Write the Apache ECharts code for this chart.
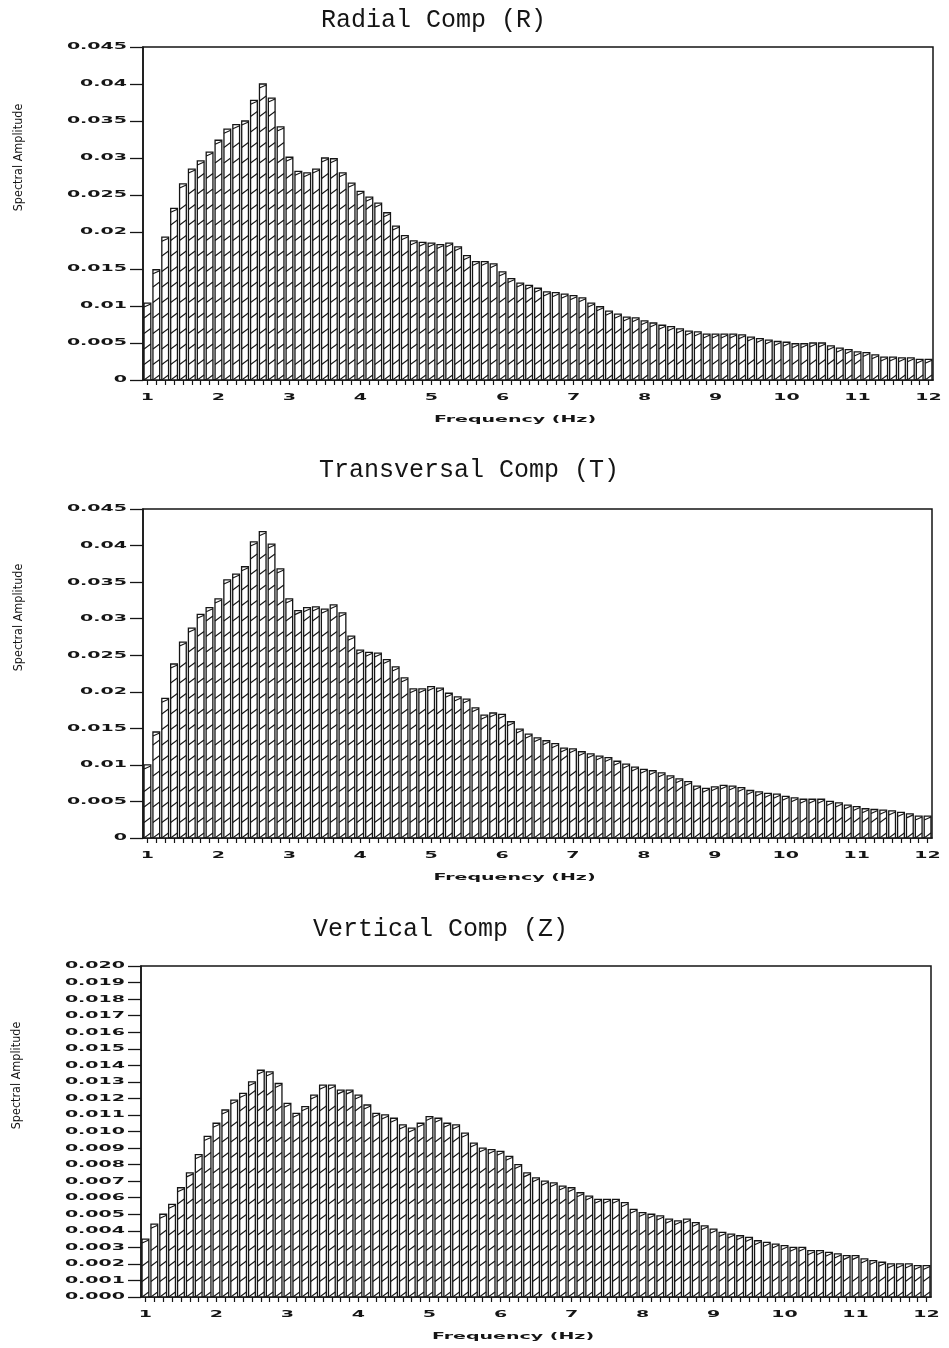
<!DOCTYPE html>
<html>
<head>
<meta charset="utf-8">
<style>
  html, body { margin: 0; padding: 0; background: #fff; }
  #chart { width: 949px; height: 1348px; }
</style>
<script src="https://cdn.jsdelivr.net/npm/echarts@6/dist/echarts.min.js"></script>
</head>
<body>
<div id="chart"></div>
<script>
// Frequency bins: 1 Hz to 12 Hz, one bar every 1/8 Hz
const FREQ_START = 1;
const FREQ_STEP = 0.125;
const FREQ_COUNT = 89;
const FREQS = Array.from({ length: FREQ_COUNT }, (_, i) => String(FREQ_START + i * FREQ_STEP));

const TITLES = ['Radial Comp (R)', 'Transversal Comp (T)', 'Vertical Comp (Z)'];
const X_NAME = 'Frequency (Hz)';
const Y_NAME = 'Spectral Amplitude';

// Tick labels
const X_TICK_LABELS = ['1', '2', '3', '4', '5', '6', '7', '8', '9', '10', '11', '12'];
const Y_TICK_LABELS_RT = ['0', '0.005', '0.01', '0.015', '0.02', '0.025', '0.03', '0.035', '0.04', '0.045'];
const Y_TICK_LABELS_Z = [
  '0.000', '0.001', '0.002', '0.003', '0.004', '0.005', '0.006', '0.007', '0.008', '0.009', '0.010',
  '0.011', '0.012', '0.013', '0.014', '0.015', '0.016', '0.017', '0.018', '0.019', '0.020'
];

// Spectral amplitude, radial component
const RADIAL = [
  0.0104, 0.0149, 0.0193, 0.0232, 0.0265, 0.0285, 0.0296, 0.0308,
  0.0324, 0.0339, 0.0345, 0.0350, 0.0378, 0.0400, 0.0381, 0.0342,
  0.0301, 0.0282, 0.0280, 0.0285, 0.0300, 0.0299, 0.0280, 0.0266,
  0.0255, 0.0247, 0.0239, 0.0226, 0.0208, 0.0195, 0.0188, 0.0186,
  0.0185, 0.0183, 0.0185, 0.0180, 0.0168, 0.0160, 0.0160, 0.0157,
  0.0146, 0.0137, 0.0131, 0.0128, 0.0124, 0.0119, 0.0118, 0.0116,
  0.0114, 0.0111, 0.0104, 0.0099, 0.0093, 0.0089, 0.0085, 0.0084,
  0.0080, 0.0077, 0.0074, 0.0072, 0.0069, 0.0066, 0.0065, 0.0062,
  0.0062, 0.0062, 0.0062, 0.0061, 0.0058, 0.0056, 0.0054, 0.0052,
  0.0051, 0.0049, 0.0049, 0.0050, 0.0050, 0.0046, 0.0043, 0.0041,
  0.0038, 0.0037, 0.0034, 0.0031, 0.0031, 0.0030, 0.0030, 0.0028,
  0.0028
];

// Spectral amplitude, transversal component
const TRANSVERSAL = [
  0.0100, 0.0145, 0.0191, 0.0238, 0.0268, 0.0287, 0.0306, 0.0315,
  0.0327, 0.0353, 0.0361, 0.0371, 0.0405, 0.0419, 0.0402, 0.0368,
  0.0327, 0.0311, 0.0315, 0.0316, 0.0313, 0.0319, 0.0308, 0.0276,
  0.0257, 0.0254, 0.0253, 0.0244, 0.0234, 0.0219, 0.0204, 0.0204,
  0.0207, 0.0205, 0.0198, 0.0193, 0.0190, 0.0178, 0.0168, 0.0171,
  0.0169, 0.0159, 0.0149, 0.0142, 0.0137, 0.0133, 0.0129, 0.0123,
  0.0122, 0.0118, 0.0115, 0.0112, 0.0110, 0.0105, 0.0101, 0.0097,
  0.0094, 0.0092, 0.0089, 0.0085, 0.0081, 0.0077, 0.0071, 0.0068,
  0.0070, 0.0072, 0.0071, 0.0069, 0.0065, 0.0063, 0.0061, 0.0060,
  0.0057, 0.0055, 0.0053, 0.0053, 0.0053, 0.0050, 0.0048, 0.0045,
  0.0043, 0.0040, 0.0039, 0.0038, 0.0037, 0.0035, 0.0033, 0.0030,
  0.0030
];

// Spectral amplitude, vertical component
const VERTICAL = [
  0.0035, 0.0044, 0.0050, 0.0056, 0.0066, 0.0075, 0.0086, 0.0097,
  0.0105, 0.0113, 0.0119, 0.0123, 0.0130, 0.0137, 0.0136, 0.0129,
  0.0117, 0.0111, 0.0115, 0.0122, 0.0128, 0.0128, 0.0125, 0.0125,
  0.0122, 0.0116, 0.0111, 0.0110, 0.0108, 0.0104, 0.0102, 0.0105,
  0.0109, 0.0108, 0.0105, 0.0104, 0.0099, 0.0093, 0.0090, 0.0089,
  0.0088, 0.0085, 0.0080, 0.0075, 0.0072, 0.0070, 0.0069, 0.0067,
  0.0066, 0.0063, 0.0061, 0.0059, 0.0059, 0.0059, 0.0057, 0.0053,
  0.0051, 0.0050, 0.0049, 0.0047, 0.0046, 0.0047, 0.0045, 0.0043,
  0.0041, 0.0039, 0.0038, 0.0037, 0.0036, 0.0034, 0.0033, 0.0032,
  0.0031, 0.0030, 0.0030, 0.0028, 0.0028, 0.0027, 0.0026, 0.0025,
  0.0025, 0.0023, 0.0022, 0.0021, 0.0020, 0.0020, 0.0020, 0.0019,
  0.0019
];

const SERIES = [RADIAL, TRANSVERSAL, VERTICAL];
const Y_TICK_LABELS = [Y_TICK_LABELS_RT, Y_TICK_LABELS_RT, Y_TICK_LABELS_Z];
const Y_MAX = [0.045, 0.045, 0.020];
const Y_STEP = [0.005, 0.005, 0.001];

const INK = '#151515';
// Wide plotter-style lettering for the axis numbers and the frequency caption
const PLOT_FONT = 'bold 9.5px "DejaVu Sans"';
const PLOT_STRETCH = 2.0;

// Panel geometry
const GRIDS = [
  { left: 143, right: 16, top: 47, height: 333 },
  { left: 143, right: 17, top: 509, height: 329 },
  { left: 141, right: 18, top: 966, height: 331 }
];
const TITLE_POS = [
  { left: 316, top: 3 },
  { left: 314, top: 453 },
  { left: 308, top: 912 }
];

// Each bar: white column with outline, slanted cap and stacked slanted hatch strokes
function renderBar(params, api) {
  const idx = api.value(0);
  const v = api.value(1);
  const top = api.coord([idx, v]);
  const base = api.coord([idx, 0]);
  const band = api.size([1, 0])[0];
  const w = band * 0.76;
  const x0 = top[0] - w / 2;
  const x1 = x0 + w;
  const yTop = top[1];
  const yBase = base[1];
  const stroke = { stroke: INK, lineWidth: 1.1 };
  const children = [{
    type: 'rect',
    shape: { x: x0, y: yTop, width: w, height: yBase - yTop },
    style: { fill: '#fff', stroke: INK, lineWidth: 1.3 }
  }];
  if (yBase - yTop > 6) {
    children.push({
      type: 'line',
      shape: { x1: x0, y1: yTop + 4, x2: x1, y2: yTop + 1 },
      style: stroke
    });
  }
  for (let y = yBase; y - 5 > yTop + 7; y -= 15.5) {
    children.push({
      type: 'line',
      shape: { x1: x0, y1: y, x2: x1, y2: y - 5 },
      style: stroke
    });
  }
  return { type: 'group', children };
}

const chart = echarts.init(document.getElementById('chart'), null, { renderer: 'canvas' });

const option = {
  backgroundColor: '#fff',
  animation: false,
  title: TITLES.map((t, i) => ({
    text: t,
    left: TITLE_POS[i].left,
    top: TITLE_POS[i].top,
    textStyle: {
      fontFamily: 'Liberation Mono',
      fontSize: 25,
      fontWeight: 'normal',
      color: INK
    }
  })),
  grid: GRIDS.map(g => Object.assign({
    show: true,
    borderColor: INK,
    borderWidth: 1.5,
    backgroundColor: 'transparent',
    containLabel: false
  }, g)),
  xAxis: GRIDS.map((g, i) => ({
    type: 'category',
    gridIndex: i,
    data: FREQS,
    boundaryGap: true,
    axisLine: { show: true, lineStyle: { color: INK, width: 1.5 } },
    axisTick: {
      show: true,
      interval: 0,
      alignWithLabel: true,
      length: 5,
      lineStyle: { color: INK, width: 1.2 }
    },
    axisLabel: { show: false },
    splitLine: { show: false }
  })),
  yAxis: GRIDS.map((g, i) => ({
    type: 'value',
    gridIndex: i,
    min: 0,
    max: Y_MAX[i],
    interval: Y_STEP[i],
    name: Y_NAME,
    nameLocation: 'middle',
    nameGap: 118,
    nameRotate: 90,
    nameTextStyle: {
      fontFamily: '"Liberation Sans Narrow", "DejaVu Sans Condensed", "Liberation Sans", sans-serif',
      fontSize: 12.5,
      color: INK,
      padding: [0, 0, 0, 112]
    },
    axisLine: { show: true, lineStyle: { color: INK, width: 1.5 } },
    axisTick: { show: true, length: 13, lineStyle: { color: INK, width: 1.3 } },
    axisLabel: { show: false },
    splitLine: { show: false }
  })),
  series: SERIES.map((vals, i) => ({
    type: 'custom',
    xAxisIndex: i,
    yAxisIndex: i,
    clip: true,
    renderItem: renderBar,
    encode: { x: 0, y: 1 },
    data: vals.map((v, k) => [k, v])
  }))
};

chart.setOption(option);

// Axis numbers and captions in stretched lettering, placed through the axes' own scales
function plotText(text, x, y, align) {
  return {
    type: 'text',
    x: x,
    y: y,
    scaleX: PLOT_STRETCH,
    silent: true,
    style: {
      text: text,
      font: PLOT_FONT,
      fill: INK,
      align: align,
      verticalAlign: 'middle'
    }
  };
}

const labelEls = [];
GRIDS.forEach((g, i) => {
  const baseY = chart.convertToPixel({ yAxisIndex: i }, 0);
  Y_TICK_LABELS[i].forEach(lbl => {
    const py = chart.convertToPixel({ yAxisIndex: i }, parseFloat(lbl));
    labelEls.push(plotText(lbl, g.left - 16, py, 'right'));
  });
  X_TICK_LABELS.forEach(lbl => {
    const px = chart.convertToPixel({ xAxisIndex: i }, FREQS.indexOf(lbl));
    labelEls.push(plotText(lbl, px, baseY + 18, 'center'));
  });
  const x0 = chart.convertToPixel({ xAxisIndex: i }, 0);
  const x1 = chart.convertToPixel({ xAxisIndex: i }, FREQ_COUNT - 1);
  labelEls.push(plotText(X_NAME, (x0 + x1) / 2 - 23, baseY + 40, 'center'));
});

chart.setOption({ graphic: { elements: labelEls } });
</script>
</body>
</html>
